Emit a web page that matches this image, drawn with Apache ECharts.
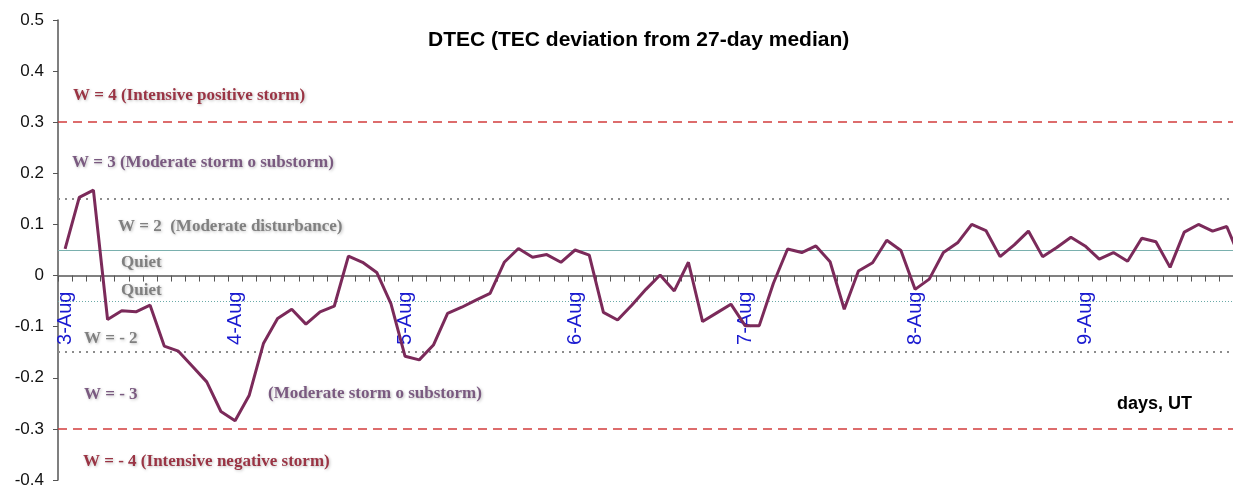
<!DOCTYPE html>
<html>
<head>
<meta charset="utf-8">
<title>DTEC</title>
<script src="https://cdn.jsdelivr.net/npm/echarts@6/dist/echarts.min.js"></script>
<style>
    html, body { margin: 0; padding: 0; background: #fff; }
    #chart { width: 1233px; height: 486px; }
</style>
</head>
<body>
<div id="chart"></div>
<script>
// days shown on the x axis, 12 two-hour samples per day
const days = ['3-Aug', '4-Aug', '5-Aug', '6-Aug', '7-Aug', '8-Aug', '9-Aug'];
const hours = ['00', '02', '04', '06', '08', '10', '12', '14', '16', '18', '20', '22'];

// DTEC values (last one is cut by the right border)
const dtec = [
    0.052, 0.153, 0.167, -0.086, -0.069, -0.071, -0.058, -0.138, -0.148, -0.178, -0.208, -0.266,
    -0.284, -0.234, -0.133, -0.084, -0.066, -0.095, -0.071, -0.060, 0.038, 0.026, 0.006, -0.055,
    -0.158, -0.165, -0.136, -0.074, -0.062, -0.048, -0.035, 0.026, 0.053, 0.036, 0.041, 0.026,
    0.050, 0.040, -0.072, -0.087, -0.058, -0.027, 0.001, -0.030, 0.026, -0.090, -0.073, -0.056,
    -0.098, -0.098, -0.015, 0.052, 0.045, 0.058, 0.027, -0.066, 0.009, 0.025, 0.069, 0.049,
    -0.027, -0.007, 0.045, 0.064, 0.100, 0.088, 0.037, 0.060, 0.087, 0.037, 0.055, 0.075,
    0.058, 0.032, 0.045, 0.028, 0.073, 0.066, 0.016, 0.085, 0.100, 0.087, 0.096, 0.030
];

// W-index thresholds
const stormLevel = 0.3;
const moderateLevel = 0.155;
const quietLevel = 0.047;

const yTicks = [-0.4, -0.3, -0.2, -0.1, 0, 0.1, 0.2, 0.3, 0.4, 0.5];

const gridTop = 20;
const gridBottom = 6;
const chartHeight = 486;

function buildCategories() {
    let cats = [];
    for (const d of days) {
        for (const h of hours) {
            cats.push(d + ' ' + h);
        }
    }
    return cats;
}

// day labels hang just below the zero line, not at the grid bottom
function labelMargin() {
    let yMin = yTicks[0];
    let yMax = yTicks[yTicks.length - 1];
    let bottomY = chartHeight - gridBottom;
    let h = bottomY - gridTop;
    let zeroY = gridTop + h * (yMax / (yMax - yMin));
    return 16 - (bottomY - zeroY);
}

function note(text, x, y, color, font) {
    return {
        type: 'text',
        x: x,
        y: y,
        style: {
            text: text,
            fill: color,
            font: font || 'bold 17px "Liberation Serif"',
            verticalAlign: 'middle',
            textShadowColor: 'rgba(0,0,0,0.25)',
            textShadowBlur: 3,
            textShadowOffsetX: 1,
            textShadowOffsetY: 1
        }
    };
}

function hLine(value, color, type, width) {
    return {
        yAxis: value,
        lineStyle: {color: color, type: type, width: width}
    };
}

function drawChart() {
    let chartDom = document.getElementById('chart');
    let myChart = echarts.init(chartDom);
    let categories = buildCategories().slice(0, dtec.length);
    let option;
    option = {
        animation: false,
        title: {
            text: 'DTEC (TEC deviation from 27-day median)',
            left: 423,
            top: 25,
            textStyle: {
                fontFamily: 'Arial',
                fontSize: 21,
                fontWeight: 'bold',
                color: '#000'
            }
        },
        grid: {
            left: 58,
            right: -15,
            top: gridTop,
            bottom: gridBottom,
            containLabel: false,
            outerBoundsMode: 'none'
        },
        xAxis: {
            type: 'category',
            data: categories,
            boundaryGap: true,
            axisLine: {
                onZero: true,
                lineStyle: {color: '#808080', width: 2}
            },
            axisTick: {
                show: true,
                interval: 0,
                length: 6,
                lineStyle: {color: '#555', width: 1}
            },
            axisLabel: {
                interval: 11,
                rotate: 90,
                margin: labelMargin(),
                color: '#1a1ad0',
                fontFamily: 'Arial',
                fontSize: 20,
                formatter: function (v) {
                    return v.split(' ')[0];
                }
            },
            splitLine: {show: false}
        },
        yAxis: {
            type: 'value',
            min: yTicks[0],
            max: yTicks[yTicks.length - 1],
            interval: 0.1,
            axisLine: {
                show: true,
                lineStyle: {color: '#555', width: 1.5}
            },
            axisTick: {
                show: true,
                length: 5,
                lineStyle: {color: '#555'}
            },
            axisLabel: {
                margin: 14,
                color: '#111',
                fontFamily: 'Arial',
                fontSize: 17,
                formatter: function (v) {
                    return Math.abs(v) < 1e-9 ? '0' : String(Math.round(v * 10) / 10);
                }
            },
            splitLine: {show: false}
        },
        series: [
            {
                name: 'DTEC',
                type: 'line',
                data: dtec,
                symbol: 'none',
                lineStyle: {color: '#7b2a5a', width: 3},
                z: 5,
                markLine: {
                    silent: true,
                    symbol: ['none', 'none'],
                    label: {show: false},
                    data: [
                        hLine(stormLevel, '#d23c3c', [9, 6], 1.6),
                        hLine(-stormLevel, '#d23c3c', [9, 6], 1.6),
                        hLine(moderateLevel, '#8c8c8c', [2, 5], 2),
                        hLine(-moderateLevel, '#8c8c8c', [2, 5], 2),
                        hLine(quietLevel, '#7ab0ae', 'solid', 1),
                        hLine(-quietLevel, '#6aaaa8', [1, 2], 1)
                    ]
                }
            }
        ],
        graphic: [
            note('W = 4 (Intensive positive storm)', 73, 96, '#9a3444'),
            note('W = 3 (Moderate storm o substorm)', 72, 163, '#7a5a80'),
            note('W = 2  (Moderate disturbance)', 118, 227, '#808080'),
            note('Quiet', 121, 263, '#808080'),
            note('Quiet', 121, 291, '#808080'),
            note('W = - 2', 84, 339, '#808080'),
            note('W = - 3', 84, 395, '#7a5a80'),
            note('(Moderate storm o substorm)', 268, 394, '#7a5a80'),
            note('W = - 4 (Intensive negative storm)', 83, 462, '#9a3444'),
            {
                type: 'text',
                x: 1117,
                y: 404,
                style: {
                    text: 'days, UT',
                    fill: '#000',
                    font: 'bold 18px Arial',
                    verticalAlign: 'middle'
                }
            }
        ]
    };
    option && myChart.setOption(option);
}

drawChart();
</script>
</body>
</html>
